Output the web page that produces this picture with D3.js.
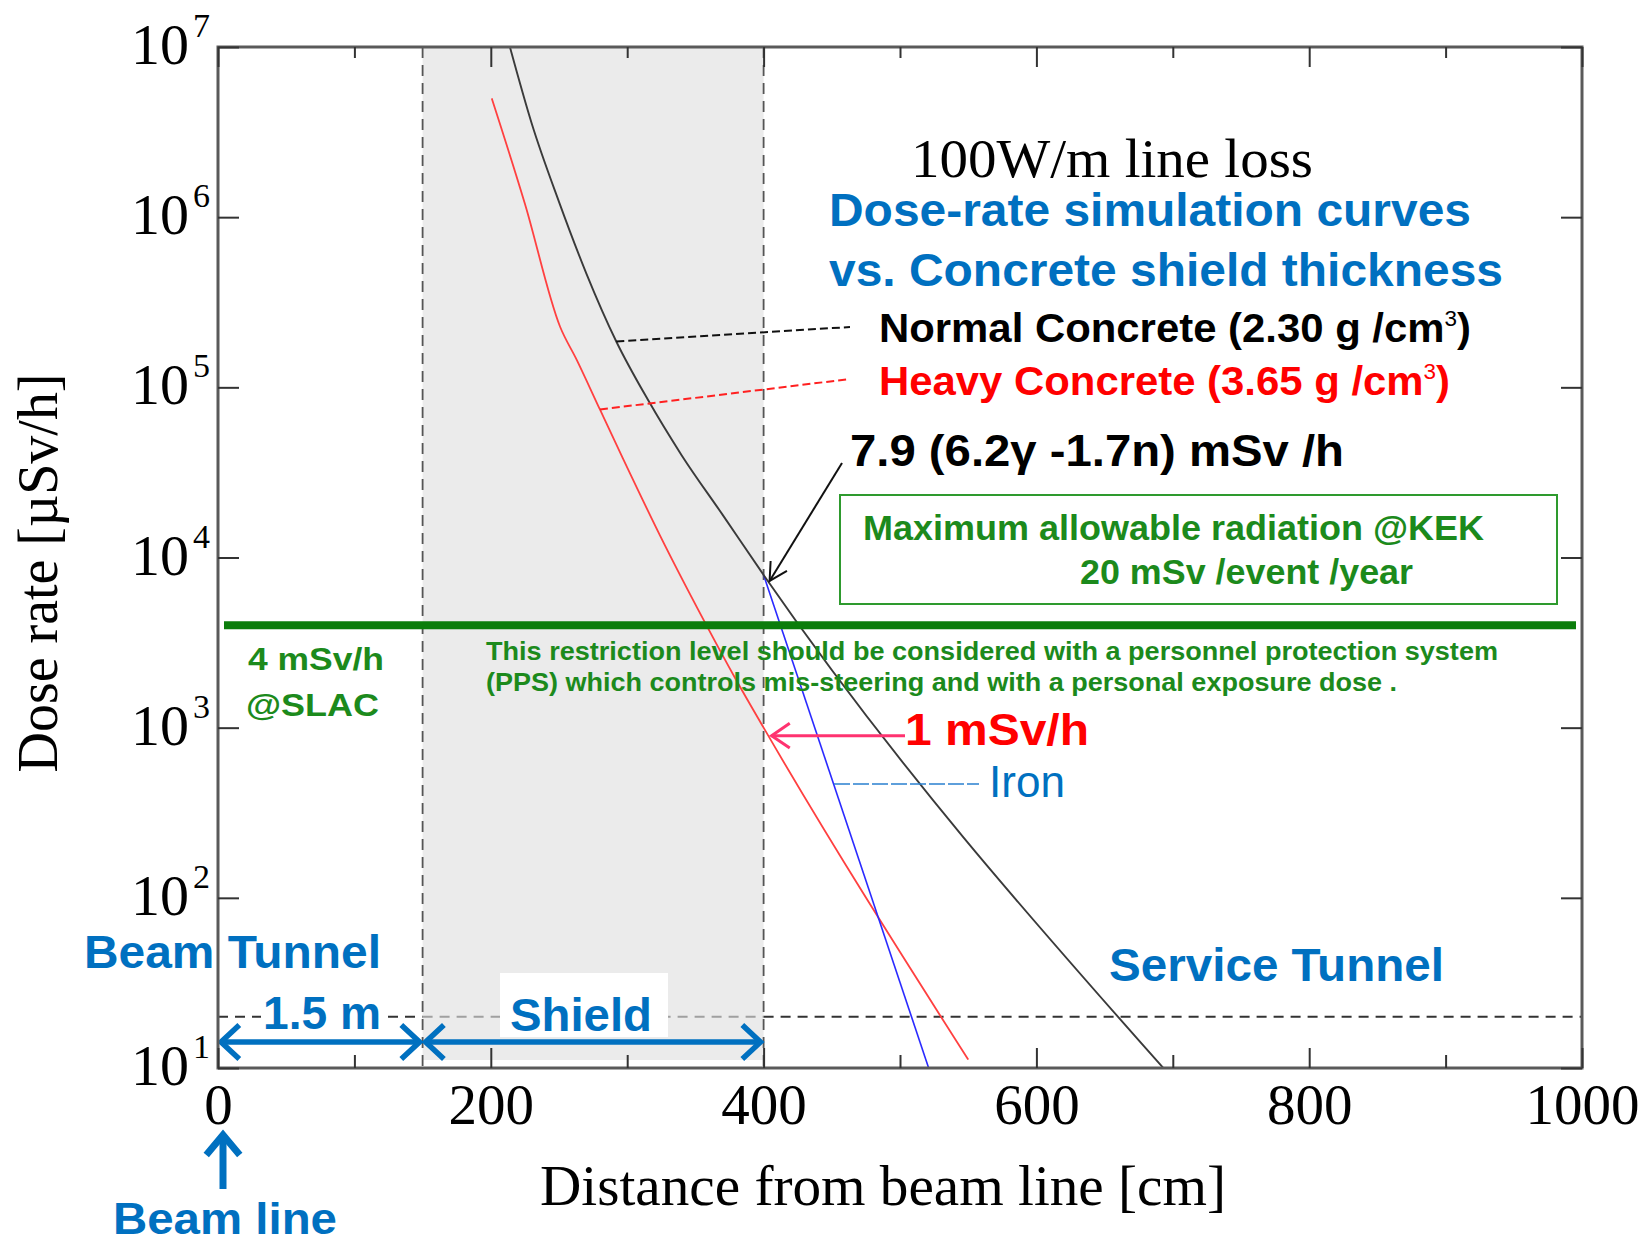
<!DOCTYPE html>
<html>
<head>
<meta charset="utf-8">
<script src="https://cdn.jsdelivr.net/npm/d3@7"></script>
<style>
  body { margin: 0; background: #fff; }
  svg { display: block; }
</style>
</head>
<body>
<svg id="chart" width="1650" height="1242"></svg>
<script>
// Dose rate outside the beam tunnel for a 100 W/m line loss,
// as a function of the distance from the beam line.
const normalDist = [214, 230, 250, 270, 292, 315, 340, 370, 400, 693];
const normalDose = [1.0e7, 3.55e6, 1.23e6, 4.68e5, 1.86e5, 8.5e4, 3.98e4, 1.78e4, 7900, 10];
const heavyDist = [200.7, 225, 250.8, 263, 280, 297, 324, 356, 380, 400, 550];
const heavyDose = [4.99e6, 1.2e6, 2.27e5, 1.45e5, 7.41e4, 3.8e4, 1.35e4, 4.3e3, 1.9e3, 1000, 11.2];
const ironDist = [400, 521];
const ironDose = [7900, 10];

const xMajorTicks = [0, 200, 400, 600, 800, 1000];
const xMinorTicks = [100, 300, 500, 700, 900];
const yTicks = [1e1, 1e2, 1e3, 1e4, 1e5, 1e6, 1e7];
const yExponents = ["1", "2", "3", "4", "5", "6", "7"];

const shieldFrom = 150;      // cm, tunnel wall
const shieldTo = 400;        // cm, end of the concrete shield
const slacLimit = 4000;      // µSv/h  (4 mSv/h @SLAC)
const serviceLevel = 20;     // µSv/h
const normalIdx = 4;         // point of the normal-concrete curve used by its leader
const heavyIdx = 4;          // point of the heavy-concrete curve used by its leader
const heavyAtShieldIdx = 9;  // 1 mSv/h at the shield surface
const normalAtShieldIdx = 8; // 7.9 mSv/h at the shield surface

// ---- layout ----
const L = 218, R = 1582, T = 47, B = 1068;
const svg = d3.select("#chart");
const x = d3.scaleLinear().domain([0, 1000]).range([L, R]);
const y = d3.scaleLog().domain([10, 1e7]).range([B, T]);

const SERIF = "'Liberation Serif','Times New Roman',serif";
const SANS = "'Liberation Sans',Arial,Helvetica,sans-serif";
const BLUE = "#0070c0";
const GREEN_TXT = "#1c8a1c";

svg.append("rect").attr("width", 1650).attr("height", 1242).attr("fill", "#fff");

// shield band
svg.append("rect")
  .attr("x", x(shieldFrom)).attr("y", T)
  .attr("width", x(shieldTo) - x(shieldFrom)).attr("height", B - T - 8)
  .attr("fill", "#ebebeb");

// service-tunnel level
const lvl = y(serviceLevel);
[[0, shieldFrom, "#333"], [shieldFrom, shieldTo, "#a0a0a0"], [shieldTo, 1000, "#333"]].forEach(([a, b, c]) => {
  svg.append("line")
    .attr("x1", x(a)).attr("x2", x(b)).attr("y1", lvl).attr("y2", lvl)
    .attr("stroke", c).attr("stroke-width", 2).attr("stroke-dasharray", "10,7");
});

// shield boundaries
[shieldFrom, shieldTo].forEach(d => {
  svg.append("line")
    .attr("x1", x(d)).attr("x2", x(d)).attr("y1", T).attr("y2", B)
    .attr("stroke", "#555").attr("stroke-width", 1.8).attr("stroke-dasharray", "11,7");
});

// ---- curves ----
const smooth = d3.line().x(d => x(d[0])).y(d => y(d[1])).curve(d3.curveMonotoneX);
const straight = d3.line().x(d => x(d[0])).y(d => y(d[1]));

svg.append("path").datum(heavyDist.map((d, i) => [d, heavyDose[i]]))
  .attr("d", smooth).attr("fill", "none").attr("stroke", "#ff4040").attr("stroke-width", 1.8);
svg.append("path").datum(ironDist.map((d, i) => [d, ironDose[i]]))
  .attr("d", straight).attr("fill", "none").attr("stroke", "#2a2aff").attr("stroke-width", 1.6);
svg.append("path").datum(normalDist.map((d, i) => [d, normalDose[i]]))
  .attr("d", smooth).attr("fill", "none").attr("stroke", "#3a3a3a").attr("stroke-width", 1.9);

// SLAC limit
svg.append("line")
  .attr("x1", x(0) + 6).attr("x2", x(1000) - 6)
  .attr("y1", y(slacLimit)).attr("y2", y(slacLimit))
  .attr("stroke", "#0b7d0b").attr("stroke-width", 8);

// ---- helpers ----
function txt(x0, y0, str, o) {
  const t = svg.append("text")
    .attr("x", x0).attr("y", y0)
    .attr("font-family", o.family || SANS)
    .attr("font-weight", o.weight || "bold")
    .attr("font-size", o.size)
    .attr("fill", o.fill || "#000");
  if (o.anchor) t.attr("text-anchor", o.anchor);
  if (o.width) t.attr("textLength", o.width).attr("lengthAdjust", "spacingAndGlyphs");
  if (str !== null) t.text(str);
  return t;
}
function chevron(tx, ty, ang, len, spread, color, w) {
  const p = [
    [tx + len * Math.cos(ang + Math.PI - spread), ty + len * Math.sin(ang + Math.PI - spread)],
    [tx, ty],
    [tx + len * Math.cos(ang + Math.PI + spread), ty + len * Math.sin(ang + Math.PI + spread)]
  ];
  svg.append("polyline").attr("points", p.map(q => q.join(",")).join(" "))
    .attr("fill", "none").attr("stroke", color).attr("stroke-width", w)
    .attr("stroke-linejoin", "miter").attr("stroke-linecap", "butt");
}
function arrow(x1, y1, x2, y2, color, w, head, spread) {
  svg.append("line").attr("x1", x1).attr("y1", y1).attr("x2", x2).attr("y2", y2)
    .attr("stroke", color).attr("stroke-width", w);
  chevron(x2, y2, Math.atan2(y2 - y1, x2 - x1), head, spread, color, w);
}

// ---- leaders ----
svg.append("line")
  .attr("x1", x(normalDist[normalIdx])).attr("y1", y(normalDose[normalIdx]))
  .attr("x2", 850).attr("y2", 327)
  .attr("stroke", "#111").attr("stroke-width", 2).attr("stroke-dasharray", "8,4");
svg.append("line")
  .attr("x1", x(heavyDist[heavyIdx])).attr("y1", y(heavyDose[heavyIdx]))
  .attr("x2", 850).attr("y2", 379)
  .attr("stroke", "#ff2020").attr("stroke-width", 2).attr("stroke-dasharray", "8,4");
svg.append("line")
  .attr("x1", 834).attr("y1", 784).attr("x2", 979).attr("y2", 784)
  .attr("stroke", "#2a80d0").attr("stroke-width", 1.6).attr("stroke-dasharray", "16,3");

// annotation arrows
arrow(842, 463, x(normalDist[normalAtShieldIdx]) + 6, y(normalDose[normalAtShieldIdx]) + 6, "#111", 2, 20, 0.5);
arrow(905, y(heavyDose[heavyAtShieldIdx]) + 8, x(heavyDist[heavyAtShieldIdx]) + 8, y(heavyDose[heavyAtShieldIdx]) + 8, "#ff3370", 3, 22, 0.6);

// beam tunnel / shield spans
const spanY = 1042;
function doubleArrow(a, b) {
  svg.append("line").attr("x1", x(a) + 3).attr("x2", x(b) - 3).attr("y1", spanY).attr("y2", spanY)
    .attr("stroke", BLUE).attr("stroke-width", 5.5);
  chevron(x(a) + 3, spanY, Math.PI, 25, 0.75, BLUE, 5.5);
  chevron(x(b) - 3, spanY, 0, 25, 0.75, BLUE, 5.5);
}
doubleArrow(0, shieldFrom);
doubleArrow(shieldFrom, shieldTo);

// beam line pointer
arrow(x(0) + 5, 1189, x(0) + 5, 1135, BLUE, 7, 26, 0.7);

// ---- texts ----
txt(911, 177, "100W/m line loss", { family: SERIF, weight: "normal", size: 55, width: 402 });
txt(829, 226, "Dose-rate simulation curves", { size: 47, fill: BLUE, width: 642 });
txt(829, 286, "vs. Concrete shield thickness", { size: 47, fill: BLUE, width: 674 });

function withCube(x0, y0, pre, color, w) {
  const t = txt(x0, y0, null, { size: 41, fill: color, width: w });
  t.append("tspan").text(pre);
  t.append("tspan").attr("dy", -16).attr("font-size", 22).attr("font-weight", "normal").text("3");
  t.append("tspan").attr("dy", 16).text(")");
}
withCube(879, 342, "Normal Concrete (2.30 g /cm", "#000", 592);
withCube(879, 395, "Heavy Concrete (3.65 g /cm", "#ff0000", 571);

txt(850, 466, "7.9 (6.2γ -1.7n) mSv /h", { size: 45, width: 494 });

svg.append("rect").attr("x", 840).attr("y", 495).attr("width", 717).attr("height", 109)
  .attr("fill", "none").attr("stroke", "#2e9a2e").attr("stroke-width", 2);
txt(863, 540, "Maximum allowable radiation @KEK", { size: 35, fill: GREEN_TXT, width: 621 });
txt(1080, 584, "20 mSv /event /year", { size: 35, fill: GREEN_TXT, width: 333 });

txt(248, 670, "4 mSv/h", { size: 32, fill: GREEN_TXT, width: 136 });
txt(246, 716, "@SLAC", { size: 32, fill: GREEN_TXT, width: 133 });

txt(486, 660, "This restriction level should be considered with a personnel protection system", { size: 26, fill: GREEN_TXT, width: 1012 });
txt(486, 691, "(PPS) which controls mis-steering and with a personal exposure dose .", { size: 26, fill: GREEN_TXT, width: 911 });

txt(905, 745, "1 mSv/h", { size: 45, fill: "#ff0000", width: 184 });
txt(989, 797, "Iron", { weight: "normal", size: 44, fill: BLUE, width: 76 });

txt(1109, 981, "Service Tunnel", { size: 46, fill: BLUE, width: 335 });
txt(84, 968, "Beam Tunnel", { size: 46, fill: BLUE, width: 297 });
svg.append("rect").attr("x", 261).attr("y", 995).attr("width", 122).attr("height", 35).attr("fill", "#fff");
txt(263, 1029, "1.5 m", { size: 46, fill: BLUE, width: 118 });
svg.append("rect").attr("x", 500).attr("y", 973).attr("width", 168).attr("height", 64).attr("fill", "#fff");
txt(510, 1031, "Shield", { size: 46, fill: BLUE, width: 142 });
txt(113, 1234, "Beam line", { size: 44, fill: BLUE, width: 224 });

// axis titles
txt(883, 1205, "Distance from beam line [cm]", { family: SERIF, weight: "normal", size: 58, width: 686, anchor: "middle" });
svg.append("text")
  .attr("transform", "translate(57,573) rotate(-90)")
  .attr("text-anchor", "middle")
  .attr("font-family", SERIF).attr("font-size", 56)
  .attr("textLength", 399).attr("lengthAdjust", "spacingAndGlyphs")
  .text("Dose rate [µSv/h]");

// ---- frame and axes ----
svg.append("rect").attr("x", L).attr("y", T).attr("width", R - L).attr("height", B - T)
  .attr("fill", "none").attr("stroke", "#5a5a5a").attr("stroke-width", 3);

function styleAxis(g) {
  g.select(".domain").remove();
  g.selectAll(".tick line").attr("stroke", "#333").attr("stroke-width", 2);
}
const axB = svg.append("g").attr("transform", `translate(0,${B})`)
  .call(d3.axisBottom(x).tickValues(xMajorTicks).tickSizeInner(-20).tickSizeOuter(0).tickPadding(0).tickFormat(d3.format("d")));
styleAxis(axB);
axB.selectAll(".tick text")
  .attr("y", 56).attr("dy", 0)
  .attr("font-family", SERIF).attr("font-size", 57).attr("fill", "#000");
styleAxis(svg.append("g").attr("transform", `translate(0,${B})`)
  .call(d3.axisBottom(x).tickValues(xMinorTicks).tickSizeInner(-13).tickSizeOuter(0).tickFormat("")));
styleAxis(svg.append("g").attr("transform", `translate(0,${T})`)
  .call(d3.axisTop(x).tickValues(xMajorTicks).tickSizeInner(-20).tickSizeOuter(0).tickFormat("")));
styleAxis(svg.append("g").attr("transform", `translate(0,${T})`)
  .call(d3.axisTop(x).tickValues(xMinorTicks).tickSizeInner(-11).tickSizeOuter(0).tickFormat("")));
styleAxis(svg.append("g").attr("transform", `translate(${L},0)`)
  .call(d3.axisLeft(y).tickValues(yTicks).tickSizeInner(-21).tickSizeOuter(0).tickFormat("")));
styleAxis(svg.append("g").attr("transform", `translate(${R},0)`)
  .call(d3.axisRight(y).tickValues(yTicks).tickSizeInner(-21).tickSizeOuter(0).tickFormat("")));

// power-of-ten labels
yTicks.forEach((v, i) => {
  const t = svg.append("text")
    .attr("x", 131).attr("y", y(v) + 17)
    .attr("font-family", SERIF).attr("font-size", 58).attr("fill", "#000");
  t.append("tspan").text("10");
  t.append("tspan").attr("dx", 4).attr("dy", -27).attr("font-size", 34).text(yExponents[i]);
});
</script>
</body>
</html>
